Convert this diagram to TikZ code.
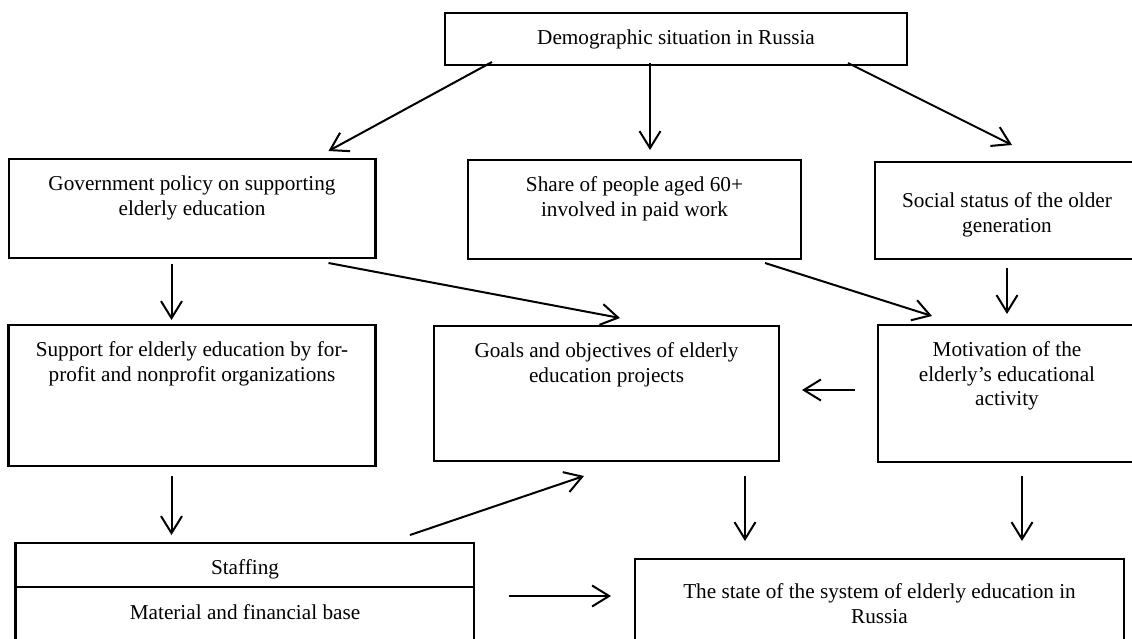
\documentclass[tikz,border=0pt]{standalone}
\usepackage{fontspec}
\setmainfont{Liberation Serif}
\usetikzlibrary{arrows.meta,calc}
\begin{document}
\begin{tikzpicture}[x=1bp,y=-1bp,
  box/.style={draw,line width=2.1bp,anchor=north west,inner sep=0pt,outer sep=0pt},
  txt/.style={anchor=north,align=center,inner sep=0pt,font=\fontsize{21.3}{25}\selectfont},
  arr/.style={line width=2bp,-{Straight Barb[length=17bp,width=21bp,line width=2bp]}}]
\useasboundingbox (0,0) rectangle (1132,639);
\clip (0,0) rectangle (1132,639);
\fill[white] (0,0) rectangle (1132,639);
% boxes
\node[box,minimum width=462bp,minimum height=52bp] (demo) at (445,13) {};
\node[box,minimum width=366.5bp,minimum height=99bp] (gov) at (9,159) {};
\node[box,minimum width=333bp,minimum height=99bp] (share) at (468,160) {};
\node[box,minimum width=270bp,minimum height=97bp] (social) at (875,162) {};
\node[box,minimum width=367bp,minimum height=141bp] (support) at (8.5,325) {};
\node[box,minimum width=345bp,minimum height=135bp] (goals) at (434,326) {};
\node[box,minimum width=270bp,minimum height=137bp] (motiv) at (878,325) {};
\node[box,minimum width=458.5bp,minimum height=120bp] (staff) at (15.5,543) {};
\node[box,minimum width=489bp,minimum height=110bp] (state) at (635,559) {};
\draw[line width=2.1bp] ($(staff.north west)+(0,44)$) -- ($(staff.north east)+(0,44)$);
% texts
\node[txt] (demot) at (676,26.5) {\strut Demographic situation in Russia};
\node[txt] (govt) at (192,172.5) {\strut Government policy on supporting\\elderly education};
\node[txt] (sharet) at (634.5,173.5) {\strut Share of people aged 60+\\involved in paid work};
\node[txt] (socialt) at (1007,189.5) {\strut Social status of the older\\generation};
\node[txt] (supportt) at (192,338.5) {\strut Support for elderly education by for-\\profit and nonprofit organizations};
\node[txt] (goalst) at (606.5,339.5) {\strut Goals and objectives of elderly\\education projects};
\node[txt] (motivt) at (1007,338.5) {\strut Motivation of the\\elderly’s educational\\activity};
\node[txt] (stafft) at (245,556.5) {\strut Staffing};
\node[txt] (matt) at (245,601.5) {\strut Material and financial base};
\node[txt] (statet) at (879.5,580.5) {\strut The state of the system of elderly education in\\Russia};
% connector end points
\coordinate (a1s) at (492,62);   \coordinate (a1e) at (328.5,151);
\coordinate (a2s) at (650,63);   \coordinate (a2e) at (650,150);
\coordinate (a3s) at (848,63);   \coordinate (a3e) at (1012,145);
\coordinate (a4s) at (171.5,264); \coordinate (a4e) at (171.5,320);
\coordinate (a5s) at (328.5,263); \coordinate (a5e) at (620,318);
\coordinate (a6s) at (765,263);  \coordinate (a6e) at (932,316);
\coordinate (a7s) at (1007,268); \coordinate (a7e) at (1007,314);
\coordinate (a8s) at (855,390);  \coordinate (a8e) at (802,390);
\coordinate (a9s) at (171.5,476); \coordinate (a9e) at (171.5,535);
\coordinate (a10s) at (410,535); \coordinate (a10e) at (584,476);
\coordinate (a11s) at (745,476); \coordinate (a11e) at (745,541);
\coordinate (a12s) at (1022,476); \coordinate (a12e) at (1022,541);
\coordinate (a13s) at (509,596); \coordinate (a13e) at (611,596);
% connectors
\draw[arr] (a1s) -- (a1e);
\draw[arr] (a2s) -- (a2e);
\draw[arr] (a3s) -- (a3e);
\draw[arr] (a4s) -- (a4e);
\draw[arr] (a5s) -- (a5e);
\draw[arr] (a6s) -- (a6e);
\draw[arr] (a7s) -- (a7e);
\draw[arr] (a8s) -- (a8e);
\draw[arr] (a9s) -- (a9e);
\draw[arr] (a10s) -- (a10e);
\draw[arr] (a11s) -- (a11e);
\draw[arr] (a12s) -- (a12e);
\draw[arr] (a13s) -- (a13e);
\end{tikzpicture}
\end{document}
